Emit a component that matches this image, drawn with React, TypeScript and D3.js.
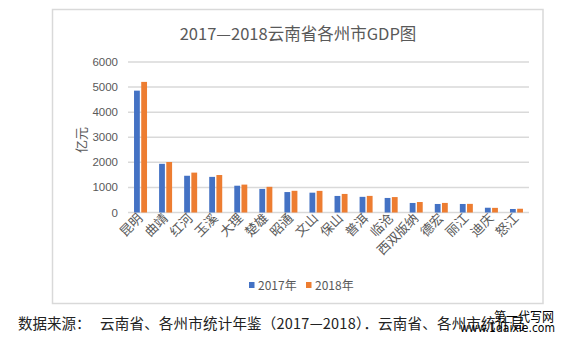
import React from "react";
import * as d3 from "d3";

const categories = ["昆明", "曲靖", "红河", "玉溪", "大理", "楚雄", "昭通", "文山", "保山", "普洱", "临沧", "西双版纳", "德宏", "丽江", "迪庆", "怒江"];
const gdp2017 = [4858, 1941, 1465, 1420, 1068, 940, 815, 790, 660, 624, 580, 380, 340, 340, 190, 140];
const gdp2018 = [5207, 2013, 1590, 1494, 1112, 1024, 865, 862, 740, 662, 615, 418, 382, 344, 185, 150];
const yTicks = [0, 1000, 2000, 3000, 4000, 5000, 6000];
const seriesNames = ["2017年", "2018年"];
const colors = ["#4472C4", "#ED7D31"];
const title = "2017—2018云南省各州市GDP图";
const yTitle = "亿元";
const footerLead = "数据来源：";
const footerBody = "云南省、各州市统计年鉴（2017—2018）．云南省、各州市统计局";
const watermark1 = "第一代写网";
const watermark2 = "www.1daixie.com";

export default function App() {
  const W = 561, H = 342;
  const x0 = 128, x1 = 529, yTop = 62, yBottom = 212.5;
  const x = d3.scaleBand<string>().domain(categories).range([x0, x1]).paddingInner(0).paddingOuter(0);
  const y = d3.scaleLinear().domain([0, 6000]).range([yBottom, yTop]);
  const bw = 5.8, gap = 1.4;
  const textColor = "#595959";
  const cjk = "'Noto Sans CJK SC', 'Noto Sans', sans-serif";
  const series = [gdp2017, gdp2018];

  return (
    <svg width={W} height={H} style={{ position: "absolute", left: 0, top: 0, background: "#fff" }}>
      <rect x={0} y={0} width={W} height={H} fill="#fff" />
      <rect x={52.5} y={9.5} width={490.5} height={294} fill="#fff" stroke="#d9d9d9" strokeWidth={1.5} />
      <text x={298} y={40} textAnchor="middle" fontFamily={cjk} fontSize={16.5} fill={textColor}>{title}</text>
      {yTicks.map((t) => (
        <g key={t}>
          <line x1={x0} x2={x1} y1={y(t)} y2={y(t)} stroke="#d9d9d9" strokeWidth={1.5} />
          <text x={118} y={y(t) + 4} textAnchor="end" fontFamily="'Liberation Sans', Arial, sans-serif" fontSize={11.5} fill={textColor}>{t}</text>
        </g>
      ))}
      <text transform={`translate(86,140) rotate(-90)`} textAnchor="middle" fontFamily={cjk} fontSize={13} fill={textColor}>{yTitle}</text>
      {categories.map((c, i) => {
        const cx = (x(c) as number) + x.bandwidth() / 2;
        return (
          <g key={c}>
            {series.map((s, k) => {
              const bx = k === 0 ? cx - gap / 2 - bw : cx + gap / 2;
              return <rect key={k} x={bx} y={y(s[i])} width={bw} height={yBottom - y(s[i])} fill={colors[k]} />;
            })}
            <text transform={`translate(${cx + 3},${219}) rotate(-45)`} textAnchor="end" fontFamily={cjk} fontSize={13} fill={textColor}>{c}</text>
          </g>
        );
      })}
      {seriesNames.map((n, k) => {
        const lx = 249 + k * 57;
        return (
          <g key={n}>
            <rect x={lx} y={282} width={5.5} height={6} fill={colors[k]} />
            <text x={lx + 9} y={289.5} fontFamily={cjk} fontSize={12} fill={textColor}>{n}</text>
          </g>
        );
      })}
      <text x={18} y={329} fontFamily={cjk} fontSize={14.5} fill="#222">{footerLead}</text>
      <text x={100} y={329} fontFamily={cjk} fontSize={14.5} fill="#222" textLength={425} lengthAdjust="spacing">{footerBody}</text>
      <text x={494} y={321} fontFamily={cjk} fontSize={13} fill="#000" textLength={60} lengthAdjust="spacingAndGlyphs">{watermark1}</text>
      <text x={460} y={332} fontFamily="'DejaVu Sans', sans-serif" fontSize={11.5} fill="#000" textLength={95} lengthAdjust="spacingAndGlyphs">{watermark2}</text>
    </svg>
  );
}
